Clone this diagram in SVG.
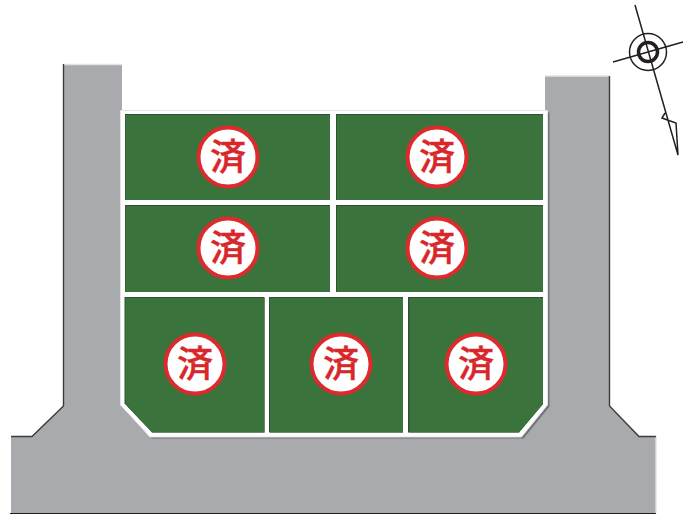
<svg xmlns="http://www.w3.org/2000/svg" width="696" height="515" viewBox="0 0 696 515">
<style>
.road{fill:#a9aaae}
.edge{fill:none;stroke:#3c3c40;stroke-width:1.4}
.edgeL{fill:none;stroke:#e2e2e4;stroke-width:1.4}
.lot{fill:#3a733c}
.lotS{fill:#2f5233}
.st{fill:#fff;stroke:#dc2a2d;stroke-width:4}
.t{font-family:"Noto Sans CJK JP","Noto Sans CJK SC",sans-serif;font-size:36px;font-weight:500;fill:#d9262b;stroke:#d9262b;stroke-width:.4;text-anchor:middle}
.n{fill:none;stroke:#231f20;stroke-width:1.5}
</style>
<defs>
<g id="stamp"><circle r="29.500" class="st"/><text y="12.500" class="t">済</text></g>
</defs>
<g id="road">
<path class="road" d="M63 64H122V115H545V76H609V406L639 436H656V513H11V436H32L63 406Z"/>
<path class="edgeL" d="M63 64.500H122M545 76H609M656 436V513"/>
<path class="edge" d="M63.500 64V406L32 436.500H11M609.500 76V406L639 436.500H656"/>
<path d="M10 513.500H656" stroke="#231f20" stroke-width="1.200" fill="none"/>
</g>
<g id="lots">
<path d="M121 111H548V405L522 437H150L120 405Z" fill="#5c5d60" transform="translate(1.500 1.500)" opacity=".7"/>
<path d="M120.500 110.500H547.500V405L521.500 437H150L120.500 405Z" fill="#fff" stroke="#e4e4e6" stroke-width="1"/>
<g id="lot1"><rect x="125" y="114" width="205" height="86" class="lotS"/><rect x="125.500" y="115" width="204.500" height="85" class="lot"/><use href="#stamp" x="228" y="157"/></g>
<g id="lot2"><rect x="336" y="114" width="207" height="86" class="lotS"/><rect x="337" y="115" width="206" height="85" class="lot"/><use href="#stamp" x="437" y="157"/></g>
<g id="lot3"><rect x="125" y="205" width="205" height="87" class="lotS"/><rect x="125.500" y="206" width="204.500" height="86" class="lot"/><use href="#stamp" x="228" y="248"/></g>
<g id="lot4"><rect x="336" y="205" width="207" height="87" class="lotS"/><rect x="337" y="206" width="206" height="86" class="lot"/><use href="#stamp" x="437" y="248"/></g>
<g id="lot5"><path class="lotS" d="M124.500 297H264.500V432.500H152L124.500 403.500Z"/><path class="lot" d="M125.500 298H264.500V432.500H152.500L125.500 403.500Z"/><use href="#stamp" x="195" y="364"/></g>
<g id="lot6"><rect x="269" y="297" width="134" height="135.500" class="lotS"/><rect x="270" y="298" width="133" height="134.500" class="lot"/><use href="#stamp" x="341" y="364"/></g>
<g id="lot7"><path class="lotS" d="M408 297H543V404L519 432.500H408Z"/><path class="lot" d="M409.500 298H543V404L519 432.500H409.500Z"/><use href="#stamp" x="476" y="364"/></g>
</g>
<g id="compass">
<circle cx="648" cy="52" r="18.500" class="n"/>
<circle cx="648" cy="52" r="9.500" fill="none" stroke="#231f20" stroke-width="3.500"/>
<path class="n" d="M635 5L678 155L676 123L662 118L665 113M613 62L683 42"/>
</g>
</svg>
